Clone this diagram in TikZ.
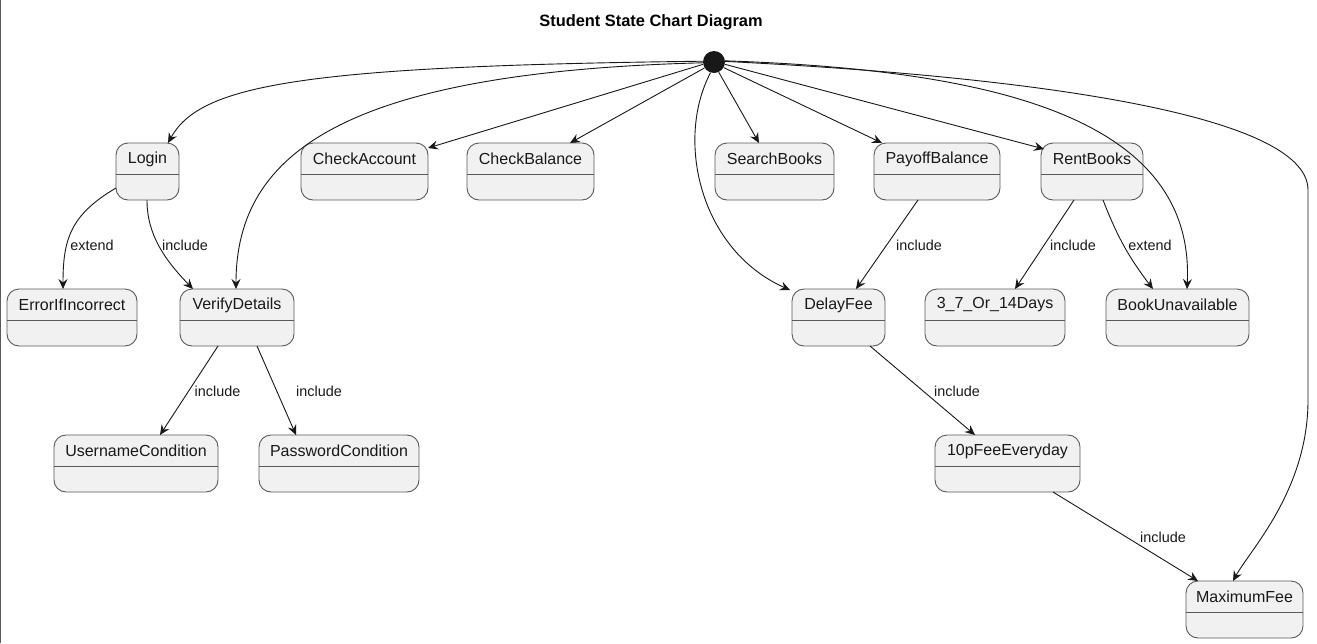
\documentclass[tikz,border=0pt]{standalone}
\usepackage{fontspec}
\setmainfont{Liberation Sans}
\usetikzlibrary{arrows.meta,calc}
\definecolor{stfill}{HTML}{F1F1F1}
\definecolor{stline}{HTML}{5A5A5A}
\definecolor{edge}{HTML}{181818}
\tikzset{
  stbox/.style={draw=stline, fill=stfill, line width=0.9pt, rounded corners=12pt, inner sep=0pt, outer sep=0pt, minimum height=57pt},
  sttext/.style={font=\fontsize{16}{19}\selectfont, inner sep=0pt, text=black!90},
  sepline/.style={draw=stline, line width=0.9pt},
  tr/.style={draw=edge, line width=0.9pt, -{Stealth[length=10pt,width=9pt,inset=3.5pt]}},
  elabel/.style={font=\fontsize{14.4}{17}\selectfont, inner sep=0pt, text=black!90},
}
\newcommand\mkstate[5]{%
  \node[stbox, minimum width=#4pt, anchor=north west] (#1) at (#2,#3) {};
  \node[sttext] (#1-t) at ([yshift=-16pt]#1.north) {#5};
  \draw[sepline] ([yshift=-31pt]#1.north west) -- ([yshift=-31pt]#1.north east);
}
\begin{document}
\begin{tikzpicture}[x=1pt,y=-1pt]
\useasboundingbox (0,0) rectangle (1317,643);
\fill[white] (0,0) rectangle (1317,643);
\draw[draw=stline, line width=1.3pt] (0.7,0) -- (0.7,643);
\node[font=\bfseries\fontsize{16.4}{20}\selectfont, inner sep=0pt] (title) at (651,22) {Student State Chart Diagram};

\mkstate{login}{116}{143}{63}{Login}
\mkstate{ca}{301}{143}{127}{CheckAccount}
\mkstate{cb}{467}{143}{127}{CheckBalance}
\mkstate{sb}{715}{143}{119}{SearchBooks}
\mkstate{pb}{874}{143}{126}{PayoffBalance}
\mkstate{rb}{1041}{143}{102}{RentBooks}
\mkstate{err}{7}{289}{130}{ErrorIfIncorrect}
\mkstate{vd}{180}{289}{114}{VerifyDetails}
\mkstate{df}{792}{289}{93}{DelayFee}
\mkstate{days}{925}{289}{140}{3\_7\_Or\_14Days}
\mkstate{bu}{1106}{289}{143}{BookUnavailable}
\mkstate{uc}{54}{435}{164}{UsernameCondition}
\mkstate{pc}{259}{435}{160}{PasswordCondition}
\mkstate{tenp}{935}{435}{145}{10pFeeEveryday}
\mkstate{mf}{1186}{581}{117}{MaximumFee}

\node[circle, fill=edge, minimum size=22pt, inner sep=0pt] (start) at (714,62) {};

% transitions from the initial state
\draw[tr] (start.176) .. controls (300,66) and (200,85) .. ([xshift=52pt]login.north west);
\draw[tr] (start.184) .. controls (350,72) and (236,150) .. ([xshift=56pt]vd.north west);
\draw[tr] (start.192) -- ([yshift=-5pt]ca.north east);
\draw[tr] (start.212) -- ([xshift=103pt]cb.north west);
\draw[tr] (start.-65) -- ([xshift=44pt]sb.north west);
\draw[tr] (start.-30) -- ([xshift=8pt]pb.north west);
\draw[tr] (start.-12) -- ([xshift=3pt,yshift=-6pt]rb.north west);
\draw[tr] (start.252) .. controls (675,140) and (700,250) .. ([xshift=-2pt,yshift=-1pt]df.north west);
\draw[tr] (start.6) .. controls (1000,70) and (1195,120) .. ([xshift=81pt]bu.north west);
\draw[tr] (start.3) .. controls (1000,75) and (1308,110) .. (1308,190) -- (1308,400) .. controls (1308,490) and (1250,550) .. ([xshift=-11.5pt]mf.north);

% other transitions
\draw[tr] ([yshift=-45pt]login.north west) .. controls (70,215) and (63,240) .. ([xshift=56pt]err.north west);
\draw[tr] ([xshift=31pt]login.south west) .. controls (147,235) and (165,260) .. ([xshift=13pt]vd.north west);
\draw[tr] ([xshift=38pt]vd.south west) -- ([xshift=106pt]uc.north west);
\draw[tr] ([xshift=77pt]vd.south west) -- ([xshift=37pt]pc.north west);
\draw[tr] ([xshift=44pt]pb.south west) -- ([xshift=64pt]df.north west);
\draw[tr] ([xshift=33pt]rb.south west) -- ([xshift=90pt]days.north west);
\draw[tr] ([xshift=62pt]rb.south west) to[bend right=8] ([xshift=47pt]bu.north west);
\draw[tr] ([xshift=78pt]df.south west) -- ([xshift=40pt]tenp.north west);
\draw[tr] ([xshift=118pt]tenp.south west) -- ([xshift=12pt]mf.north west);

% labels
\node[elabel] (l1) at (92,245) {extend};
\node[elabel] (l2) at (185,245) {include};
\node[elabel] (l3) at (217.5,391) {include};
\node[elabel] (l4) at (319,391) {include};
\node[elabel] (l5) at (919,245) {include};
\node[elabel] (l6) at (1073,245) {include};
\node[elabel] (l7) at (1150,245) {extend};
\node[elabel] (l8) at (957,391) {include};
\node[elabel] (l9) at (1163,537) {include};
\end{tikzpicture}
\end{document}
